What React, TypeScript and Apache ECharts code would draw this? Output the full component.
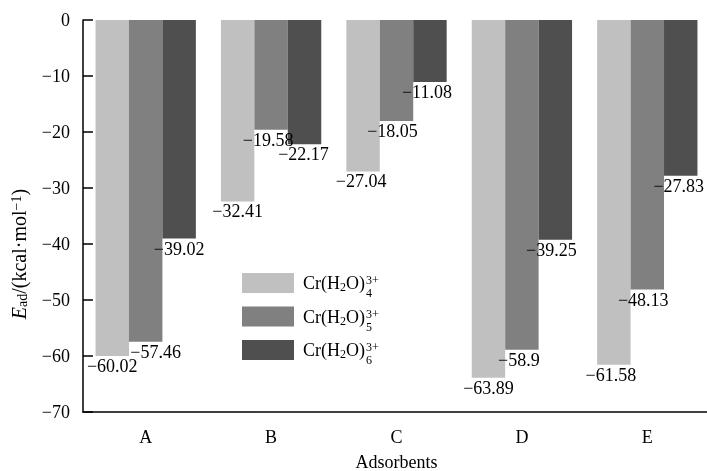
import React, { useEffect, useRef } from "react";
import * as echarts from "echarts";

const categories = ["A", "B", "C", "D", "E"];
const seriesNames = ["Cr(H2O)4 3+", "Cr(H2O)5 3+", "Cr(H2O)6 3+"];
const hydrationNumbers = ["4", "5", "6"];
const values4 = [-60.02, -32.41, -27.04, -63.89, -61.58];
const values5 = [-57.46, -19.58, -18.05, -58.9, -48.13];
const values6 = [-39.02, -22.17, -11.08, -39.25, -27.83];
const yMin = -70;
const yMax = 0;
const yStep = 10;

const colors = ["#c0c0c0", "#808080", "#4f4f4f"];
const labelShift = [
  [0, 0, -2, 0, -3],
  [10, -3, -4, -3, -4],
  [0, -1, -3, -4, -2],
];

const FONT = "'Liberation Serif', 'Times New Roman', serif";
const minus = (v: number) => (v < 0 ? "\u2212" + String(Math.abs(v)) : String(v));

export default function App() {
  const ref = useRef<HTMLDivElement>(null);
  useEffect(() => {
    if (!ref.current) return;
    const chart = echarts.init(ref.current, undefined, { renderer: "svg" });
    const allValues = [values4, values5, values6];
    const series = allValues.map((vals, si) => ({
      name: seriesNames[si],
      type: "bar",
      barGap: "0%",
      barCategoryGap: "20%",
      itemStyle: { color: colors[si] },
      data: vals.map((v, ci) => ({
        value: v,
        label: { offset: [labelShift[si][ci], 0] },
      })),
      label: {
        show: true,
        position: "bottom",
        distance: 1,
        fontFamily: FONT,
        fontSize: 18,
        color: "#000",
        formatter: (p: any) => minus(p.value),
      },
    }));
    const legendTop = 273;
    const itemStep = 33.5;
    const scripts: any[] = [];
    hydrationNumbers.forEach((n, i) => {
      const cy = legendTop + 10 + i * itemStep;
      scripts.push({
        type: "text",
        left: 366,
        top: cy - 9,
        style: { text: "3+", fontFamily: FONT, fontSize: 12, lineHeight: 12, fill: "#000" },
      });
      scripts.push({
        type: "text",
        left: 366,
        top: cy + 4,
        style: { text: n, fontFamily: FONT, fontSize: 12, lineHeight: 12, fill: "#000" },
      });
    });
    chart.setOption({
      animation: false,
      grid: { left: 83, right: -3, top: 20, bottom: 59, containLabel: false, outerBoundsMode: "none" },
      legend: {
        orient: "vertical",
        left: 237,
        top: legendTop - 5,
        itemWidth: 52,
        itemHeight: 20,
        itemGap: 13.5,
        icon: "rect",
        data: seriesNames,
        formatter: () => "{n|Cr(H}{s|2}{n|O)}",
        textStyle: {
          padding: [0, 0, 0, 4],
          rich: {
            n: { fontFamily: FONT, fontSize: 18, color: "#000", lineHeight: 20 },
            s: { fontFamily: FONT, fontSize: 12, color: "#000", lineHeight: 8, verticalAlign: "bottom" },
          },
        },
      },
      xAxis: {
        type: "category",
        data: categories,
        name: "Adsorbents",
        nameLocation: "middle",
        nameGap: 41,
        nameTextStyle: { fontFamily: FONT, fontSize: 18, color: "#000" },
        axisLine: { onZero: false, lineStyle: { color: "#000", width: 1.5 } },
        axisTick: { inside: true, alignWithLabel: true, length: 7, lineStyle: { color: "#000", width: 1.5 } },
        axisLabel: { fontFamily: FONT, fontSize: 18, color: "#000", margin: 16 },
      },
      yAxis: {
        type: "value",
        min: yMin,
        max: yMax,
        interval: yStep,
        axisLine: { show: true, lineStyle: { color: "#000", width: 1.5 } },
        axisTick: { show: true, inside: true, length: 10, lineStyle: { color: "#000", width: 1.5 } },
        splitLine: { show: false },
        axisLabel: {
          fontFamily: FONT,
          fontSize: 18,
          color: "#000",
          margin: 13,
          formatter: (v: number) => minus(v),
        },
      },
      graphic: [
        {
          type: "text",
          x: 19,
          y: 254,
          rotation: Math.PI / 2,
          style: {
            text: "{i|E}{sub|ad}{n|/(kcal\u00b7mol}{sup|\u22121}{n|)}",
            align: "center",
            verticalAlign: "middle",
            rich: {
              i: { fontFamily: FONT, fontSize: 20, fontStyle: "italic", fill: "#000", lineHeight: 20 },
              n: { fontFamily: FONT, fontSize: 20, fill: "#000", lineHeight: 20 },
              sub: { fontFamily: FONT, fontSize: 14, fill: "#000", lineHeight: 8, verticalAlign: "bottom" },
              sup: { fontFamily: FONT, fontSize: 14, fill: "#000", lineHeight: 10, verticalAlign: "top" },
            },
          },
        },
        ...scripts,
      ],
      series,
    });
    return () => chart.dispose();
  }, []);
  return <div ref={ref} style={{ position: "fixed", left: 0, top: 0, width: 707, height: 471 }} />;
}
